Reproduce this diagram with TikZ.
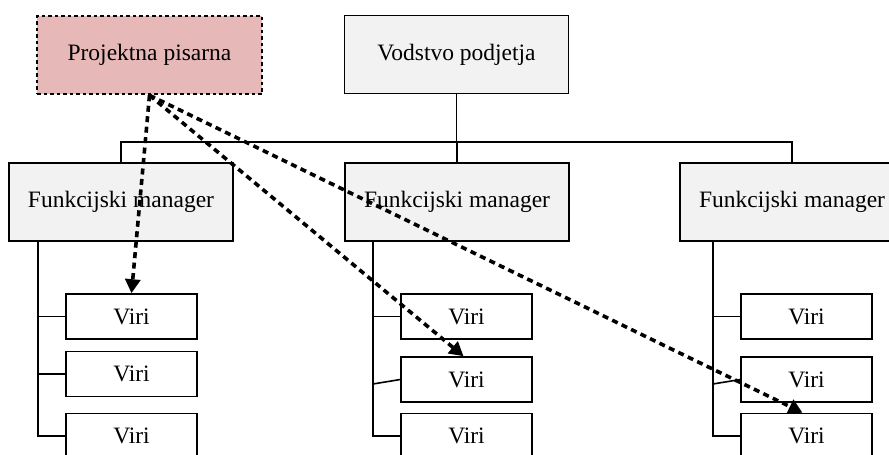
\documentclass[tikz,border=0pt]{standalone}
\usepackage{fontspec}
\setmainfont{Liberation Serif}
\usetikzlibrary{arrows.meta}
\definecolor{pinkfill}{HTML}{E6B9B8}
\definecolor{grayfill}{HTML}{F2F2F2}
\tikzset{
  box/.style={draw=black, line width=1.6pt, inner sep=0pt, font=\fontsize{23.5}{27}\selectfont},
  topbox/.style={box, fill=grayfill, minimum width=224pt, minimum height=78pt},
  pmobox/.style={box, fill=pinkfill, dash pattern=on 3.5pt off 3pt, line width=2.6pt, minimum width=225pt, minimum height=78pt},
  virbox/.style={box, fill=white, minimum width=131pt, minimum height=45pt},
  conn/.style={line width=1.6pt},
  pmoarrow/.style={line width=3.6pt, dash pattern=on 6pt off 4.5pt, -{Triangle[length=14pt,width=15pt]}}
}
\begin{document}
\begin{tikzpicture}[x=1pt,y=-1pt]
\clip (0,0) rectangle (889,455);
\fill[white] (0,0) rectangle (889,455);
% top
\node[pmobox] (pmo) at (149.5,55) {Projektna pisarna};
\node[topbox] (vod) at (456.5,54.5) {Vodstvo podjetja};
% functional managers
\node[topbox] (f1) at (121,202) {Funkcijski manager};
\node[topbox] (f2) at (457,202) {Funkcijski manager};
\node[topbox] (f3) at (792,202) {Funkcijski manager};
% tree connectors
\coordinate (bar) at (0,142);
\draw[conn] (vod.south) -- (vod.south |- bar);
\draw[conn] (f1.north) -- (f1.north |- bar) -- (f3.north |- bar) -- (f3.north);
\draw[conn] (f2.north) -- (f2.north |- bar);
% resources
\node[virbox] (a1) at (131.5,316.5) {Viri};
\node[virbox] (a2) at (131.5,374) {Viri};
\node[virbox] (a3) at (131.5,436) {Viri};
\node[virbox] (b1) at (466.5,316.5) {Viri};
\node[virbox] (b2) at (466.5,379.5) {Viri};
\node[virbox] (b3) at (466.5,436) {Viri};
\node[virbox] (c1) at (806.5,316.5) {Viri};
\node[virbox] (c2) at (806.5,379.5) {Viri};
\node[virbox] (c3) at (806.5,436) {Viri};
% brackets
\coordinate (ta) at (38,241);
\coordinate (tb) at (373,241);
\coordinate (tc) at (713,241);
\draw[conn] (ta) -- (ta |- a3.west) -- (a3.west);
\draw[conn] (ta |- a1.west) -- (a1.west);
\draw[conn] (ta |- a2.west) -- (a2.west);
\draw[conn] (tb) -- (tb |- b3.west) -- (b3.west);
\draw[conn] (tb |- b1.west) -- (b1.west);
\draw[conn] ([yshift=-4.5pt]tb |- b2.west) -- (b2.west);
\draw[conn] (tc) -- (tc |- c3.west) -- (c3.west);
\draw[conn] (tc |- c1.west) -- (c1.west);
\draw[conn] ([yshift=-4.5pt]tc |- c2.west) -- (c2.west);
% dashed arrows
\draw[pmoarrow] (pmo.south) -- (a1.north);
\draw[pmoarrow] (pmo.south) -- ([xshift=-3pt]b2.north);
\draw[pmoarrow] (pmo.south) -- ([xshift=-4pt]c3.north);
\end{tikzpicture}
\end{document}
